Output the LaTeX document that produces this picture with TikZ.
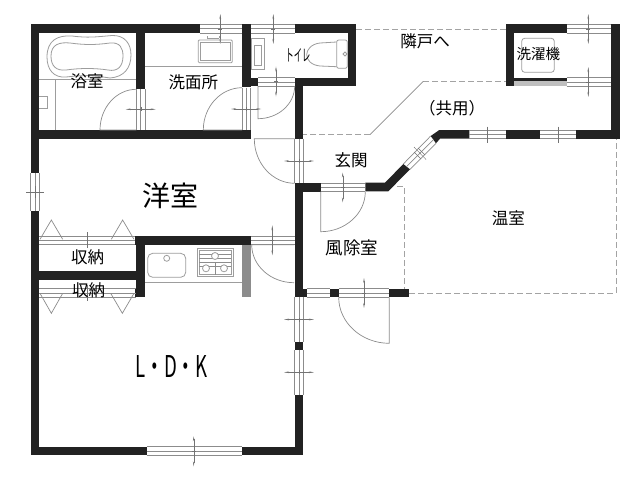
\documentclass[tikz,border=0pt]{standalone}
\usepackage{fontspec}
\setmainfont{Noto Sans CJK JP}
\usepackage{graphicx}
\usepackage{tikz}
\usetikzlibrary{arrows.meta,calc,positioning}
\definecolor{walldark}{HTML}{222222}
\definecolor{linegray}{HTML}{8C8C8C}
\tikzset{
  wall/.style={fill=walldark},
  thinline/.style={draw=linegray,line width=.7pt},
  fixline/.style={draw=linegray!85,line width=.8pt},
  dashline/.style={draw=linegray!80,line width=.8pt,dash pattern=on 6pt off 3pt},
  sashmark/.style={draw=black!55,line width=.4pt,{Stealth[length=5pt,width=1.6pt]}-{Stealth[length=5pt,width=1.6pt]}},
  tickmark/.style={draw=black!55,line width=.4pt},
  roomlabel/.style={inner sep=0pt,font=\fontsize{16.5}{18}\selectfont}
}
\begin{document}
\begin{tikzpicture}[x=1pt,y=-1pt]
\useasboundingbox (0,0) rectangle (640,480);
\fill[white] (0,0) rectangle (640,480);

\foreach \xa/\ya/\xb/\yb in {
  30.7/24.3/200/33.3, 242/24.3/250.7/87.3, 294.7/24.3/356/33.3, 347.7/24.3/356/86,
  295/77.7/356/86, 242/77.7/258/86, 294.7/77.7/303.3/138.7, 30.7/24.3/39.3/173.3,
  39/130/250.7/138.7, 136.3/24.3/145/89.3, 30.7/210.7/39.3/455.3, 30.7/446.7/146.7/455.3,
  241.7/446.7/303.3/455.3, 294.7/395/303.3/455.3, 294.7/342.3/303.3/350,
  135/236/250.7/244.7, 136.3/236/145/297, 135/288.7/145/297, 39/271/136.3/279.7,
  294.7/183.3/303.3/297.3, 294.7/288.7/306.7/297.3, 294.7/183.3/320.7/191.7,
  329.7/288.7/338.7/297.3, 389.3/288.7/409.3/297.3, 505.7/130/540/138.7,
  576/130/620/138.7, 611.3/24.3/620/138.7, 506/24.3/566.7/33.3, 506/24.3/514/86,
  514/77.7/566.7/81.3}
  \fill[wall] (\xa,\ya) rectangle (\xb,\yb);
\fill[wall] (365.3,182.7) -- (385,182.7) -- (403.3,164) -- (410,169.3) -- (388.3,191.3) -- (365.3,191.3) -- cycle;
\fill[wall] (430.7,136) -- (439.3,130) -- (469.3,130) -- (469.3,138.7) -- (440,138.7) -- (436,143.3) -- cycle;
\fill[linegray] (241.7,244.7) rectangle (250.7,297.3);
\fill[black!25] (514,81.3) rectangle (566.7,86);

\foreach \xa/\xb/\ya/\yb in {
  200/242/24.3/33.3, 250.7/294.7/24.3/33.3, 258/295/77.7/86, 469.3/505.7/130/138.7,
  540/576/130/138.7, 566.7/611.3/24.3/33.3, 566.7/611.3/77.7/86, 250.7/294.7/236/244.7,
  39/135/236/244.7, 39/136/288.7/297.3, 320.7/365.3/183.3/191.7, 306.7/329.7/288.7/297.3,
  338.7/389.3/288.7/297.3, 146.7/241.7/446.7/455.3}
  \draw[thinline] (\xa,\ya) -- (\xb,\ya) (\xa,{(\ya+\yb)/2}) -- (\xb,{(\ya+\yb)/2}) (\xa,\yb) -- (\xb,\yb);
\foreach \ya/\yb/\xa/\xb in {
  89.3/130/136.3/145, 87.7/130/242/250.7, 138.7/183.3/294.7/303.3, 173.3/210.7/30.7/39.3,
  296.7/342.3/294.7/303.3, 350/395/294.7/303.3}
  \draw[thinline] (\xa,\ya) -- (\xa,\yb) ({(\xa+\xb)/2},\ya) -- ({(\xa+\xb)/2},\yb) (\xb,\ya) -- (\xb,\yb);
\draw[thinline] (403.3,164) -- (430.7,136) (406.6,166.6) -- (433.4,139.6) (410,169.3) -- (436,143.3);

\foreach \hx/\hy/\ax/\ay/\bx/\by in {
  136.3/130/100/130/136.3/89.3, 242/130/203.3/130/242/87.7, 258/86/258/118.7/294.7/86,
  294.7/138.7/254.3/138.7/294.7/183.3, 294/244.7/251.7/244.7/294/282.7,
  320.7/191.7/320.7/231.7/365.3/191.7, 389.3/297.3/389.3/343.3/338.7/297.3}
  \draw[thinline] (\hx,\hy) -- (\ax,\ay) .. controls ($(\ax,\ay)+.55*(\bx,\by)-.55*(\hx,\hy)$) and ($(\bx,\by)+.55*(\ax,\ay)-.55*(\hx,\hy)$) .. (\bx,\by);

\foreach \cx/\cy in {140.7/109.3, 246.2/109, 299/161, 299/319.5, 299/372.3}{
  \draw[sashmark] (\cx-15,\cy) -- (\cx+15,\cy);
  \draw[tickmark] (\cx,\cy-2) -- (\cx,\cy+2);
}
\foreach \cx/\cy in {220.3/29, 273.3/29, 276/81.5, 588.3/29, 588.3/82, 272.3/240.3, 342.7/187.5, 364/293, 193.7/451.3}{
  \draw[sashmark] (\cx,\cy-15) -- (\cx,\cy+15);
  \draw[tickmark] (\cx-2,\cy) -- (\cx+2,\cy);
}
\foreach \cx/\cy in {487.3/134.5, 557.7/134.5, 86.7/240, 86.7/292.5}
  \draw[tickmark] (\cx,\cy-8) -- (\cx,\cy+8);
\draw[tickmark] (26,192.3) -- (44,192.3) (35,186) -- (35,198);
\draw[tickmark] (414,147) -- (426,159.5) (418,148) -- (425,155) (414,152) -- (421,159);

\foreach \xa/\xb/\ya in {40/62.7/239.3, 111.3/134/239.3, 40/62.7/293.3, 110.7/134/293.3}
  \draw[thinline] (\xa,\ya) -- ({(\xa+\xb)/2},{\ya==239.3 ? 220 : 313.3}) -- (\xb,\ya);

\draw[dashline] (356,29) -- (506,29);
\draw[dashline] (423.3,81.3) -- (506,81.3);
\draw[thinline] (423.3,81.3) -- (370,134.5);
\draw[dashline] (370,134.5) -- (303.3,134.5);
\draw[dashline] (397,186.7) -- (404.3,186.7) -- (404.3,289);
\draw[dashline] (409.3,293) -- (616,293) -- (616,139);

\draw[fixline] (47,57) .. controls (47,40) and (58,35) .. (72,36) .. controls (88,38) and (95,37) .. (112,35.5) .. controls (125,35) and (131,44) .. (131,55) .. controls (131,68) and (124,77) .. (110,78) .. controls (90,75) and (85,75) .. (66,77) .. controls (54,78) and (47,70) .. (47,57) -- cycle;
\draw[fixline] (51,56) .. controls (51,44) and (60,42) .. (70,43) .. controls (85,45) and (95,45) .. (110,43) .. controls (120,42) and (123,48) .. (123,56) .. controls (123,66) and (118,72) .. (108,70) .. controls (95,68) and (80,68) .. (66,70) .. controls (56,71) and (51,66) .. (51,56) -- cycle;
\draw[fixline] (39,79) -- (136.3,79) (55.7,79) -- (55.7,130);
\draw[fixline] (39,96) -- (47,96) -- (47,108) -- (39,108);
\draw[fixline] (145,66) -- (242,66);
\draw[fixline,rounded corners=1pt] (198.3,40) rectangle (232.3,62.7);
\draw[fixline] (200.5,42) rectangle (230,60.5);
\draw[fixline] (207,38) -- (207,36) (219,38) -- (219,36) (207,38) -- (219,38);
\draw[fixline] (251,38.3) rectangle (264,69);
\draw[fixline] (254,45) rectangle (261,65);
\draw[fixline,rounded corners=2pt] (336.7,40) rectangle (347.3,68.3);
\draw[fixline] (336.7,42) -- (320,43) .. controls (311,44) and (306.7,50) .. (306.7,54.5) .. controls (306.7,60) and (311,65) .. (320,66) -- (336.7,66.7);
\draw[fixline] (343,54) -- (345,52) -- (347,54) -- (345,56) -- cycle;
\draw[fixline,rounded corners=3pt] (521.7,38.3) rectangle (554.3,72.3);
\draw[fixline] (145,282.7) -- (241.7,282.7);
\draw[fixline,rounded corners=5pt] (147.7,253.3) rectangle (185.7,277.3);
\draw[fixline] (166.7,258.3) circle (3);
\draw[fixline] (197.3,248.7) rectangle (233.3,276.7) (199.3,250.7) rectangle (231.3,274.7);
\foreach \yc in {254,258,262,266}
  \draw[thinline] (199.3,\yc) -- (231.3,\yc);
\draw[thinline] (215,262) -- (215,274.7);
\foreach \cx/\cy in {215/256,206/268.3,224/268.3}
  \draw[fixline,fill=white] (\cx,\cy) circle (3.5);

\node[roomlabel] (yokushitsu) at (87,81) {浴室};
\node[roomlabel] (senmenjo) at (193.3,82) {洗面所};
\node[roomlabel] (toilet) at (298,55) {\scalebox{.5}[1]{トイレ}};
\node[roomlabel] (rinko) at (425,41.7) {隣戸へ};
\node[roomlabel,font=\fontsize{14.5}{16}\selectfont] (sentakuki) at (538.3,54.3) {洗濯機};
\node[roomlabel] (kyoyo) at (452,108) {（共用）};
\node[roomlabel] (genkan) at (351,160) {玄関};
\node[roomlabel,font=\fontsize{28}{30}\selectfont] (yoshitsu) at (170.5,196) {洋室};
\node[roomlabel] (onshitsu) at (508.3,218) {温室};
\node[roomlabel,font=\fontsize{17.5}{19}\selectfont] (fujoshitsu) at (352,248) {風除室};
\node[roomlabel] (shuno) at (87.5,257) {収納};
\node[roomlabel] (shunob) at (88.5,290) {収納};
\node[roomlabel,font=\fontsize{30}{32}\selectfont] (ldk) at (171.5,366) {\scalebox{.62}[1]{L・D・K}};
\end{tikzpicture}
\end{document}
